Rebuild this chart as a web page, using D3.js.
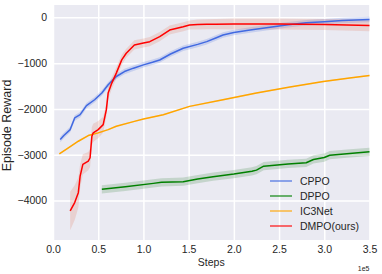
<!DOCTYPE html>
<html lang="en">
<head>
<meta charset="UTF-8">
<title>Episode Reward</title>
<script src="https://d3js.org/d3.v7.min.js"></script>
<style>
  body { margin: 0; background: #fff; }
  text { font-family: "Liberation Sans", Arial, sans-serif; fill: #262626; }
</style>
</head>
<body>
<div id="main"></div>
<script>
// data, steps in units of 1e5
var cppoX = [0.08, 0.12, 0.19, 0.24, 0.3, 0.37, 0.46, 0.54, 0.61, 0.7, 0.79, 0.89, 1.0, 1.1, 1.18, 1.3, 1.44, 1.6, 1.7, 1.8, 1.88, 2.0, 2.18, 2.4, 2.6, 2.8, 3.0, 3.2, 3.5]
var cppoY = [-2667, -2580, -2450, -2196, -2124, -1928, -1798, -1652, -1472, -1291, -1183, -1109, -1037, -980, -930, -800, -674, -590, -530, -450, -385, -330, -276, -217, -160, -120, -95, -70, -45]
var cppoSd = 60

var dppoX = [0.54, 0.8, 1.11, 1.2, 1.44, 1.6, 1.77, 2.0, 2.2, 2.25, 2.33, 2.6, 2.8, 2.88, 3.0, 3.06, 3.25, 3.5]
var dppoY = [-3754, -3700, -3624, -3600, -3587, -3530, -3478, -3420, -3360, -3335, -3248, -3200, -3174, -3102, -3060, -3009, -2975, -2935]
var dppoSd = 90

var ic3X = [0.07, 0.17, 0.28, 0.39, 0.5, 0.61, 0.7, 0.9, 1.0, 1.22, 1.51, 1.88, 2.25, 2.62, 2.99, 3.28, 3.5]
var ic3Y = [-2978, -2848, -2704, -2580, -2522, -2450, -2378, -2270, -2220, -2124, -1943, -1798, -1652, -1522, -1400, -1326, -1270]
var ic3Sd = 15

var dmpoX = [0.19, 0.24, 0.28, 0.3, 0.33, 0.39, 0.41, 0.43, 0.445, 0.5, 0.555, 0.59, 0.61, 0.65, 0.7, 0.76, 0.81, 0.9, 1.0, 1.07, 1.18, 1.29, 1.44, 1.51, 1.6, 1.7, 1.8, 2.0, 2.5, 3.0, 3.5]
var dmpoY = [-4226, -4043, -3826, -3465, -3210, -3140, -3065, -2595, -2520, -2450, -2341, -2015, -1652, -1435, -1217, -928, -783, -602, -560, -530, -422, -276, -204, -167, -155, -150, -148, -145, -145, -155, -175]
var dmpoSd = [420, 380, 330, 260, 220, 200, 200, 200, 200, 190, 170, 150, 140, 130, 120, 110, 100, 100, 100, 100, 100, 100, 100, 100, 110, 110, 110, 120, 120, 120, 130]

var xTicks = [0, 0.5, 1.0, 1.5, 2.0, 2.5, 3.0, 3.5]
var yTicks = [0, -1000, -2000, -3000, -4000]

var width = 382, height = 274
var mLeft = 53, mRight = 369.5, mTop = 5, mBottom = 240

var svg = d3.select('#main').append('svg')
    .attr('width', width).attr('height', height)

var x = d3.scaleLinear().domain([0, 3.5]).range([mLeft, mRight])
var y = d3.scaleLinear().domain([-4860, 270]).range([mBottom, mTop])

// background + grid
svg.append('rect').attr('x', mLeft).attr('y', mTop)
    .attr('width', mRight - mLeft).attr('height', mBottom - mTop).attr('fill', '#EAEAF2')

svg.append('g').attr('transform', `translate(0,${mBottom})`)
    .call(d3.axisBottom(x).tickValues(xTicks).tickSize(-(mBottom - mTop)).tickFormat(d3.format('.1f')).tickPadding(6))
    .call(g => g.select('.domain').remove())
    .call(g => g.selectAll('line').attr('stroke', '#fff').attr('stroke-width', 1.5))
    .call(g => g.selectAll('text').attr('font-size', 10.5).attr('fill', '#262626'))

svg.append('g').attr('transform', `translate(${mLeft},0)`)
    .call(d3.axisLeft(y).tickValues(yTicks).tickSize(-(mRight - mLeft)).tickFormat(d => d < 0 ? '\u2212' + Math.abs(d) : d).tickPadding(6))
    .call(g => g.select('.domain').remove())
    .call(g => g.selectAll('line').attr('stroke', '#fff').attr('stroke-width', 1.5))
    .call(g => g.selectAll('text').attr('font-size', 10.5).attr('fill', '#262626'))

var series = [
  {name: 'CPPO', xs: cppoX, ys: cppoY, sd: cppoSd, color: '#4169E1', band: '#4169E1'},
  {name: 'DPPO', xs: dppoX, ys: dppoY, sd: dppoSd, color: '#008000', band: '#2e7d32'},
  {name: 'IC3Net', xs: ic3X, ys: ic3Y, sd: ic3Sd, color: '#FFA500', band: '#FFA500'},
  {name: 'DMPO(ours)', xs: dmpoX, ys: dmpoY, sd: dmpoSd, color: '#FF0000', band: '#E07050'}
]

var area = d3.area().x(d => x(d.x)).y0(d => y(d.v - d.s)).y1(d => y(d.v + d.s))
var line = d3.line().x(d => x(d.x)).y(d => y(d.v))

series.forEach(s => {
  s.pts = s.xs.map((v, i) => ({x: v, v: s.ys[i], s: Array.isArray(s.sd) ? s.sd[i] : s.sd}))
  svg.append('path').attr('d', area(s.pts)).attr('fill', s.band).attr('opacity', 0.2)
})
series.forEach(s => {
  svg.append('path').attr('d', line(s.pts)).attr('fill', 'none')
      .attr('stroke', s.color).attr('stroke-width', 1.5).attr('stroke-linejoin', 'round')
})

// legend
var lg = svg.append('g')
series.forEach((s, i) => {
  var ly = 181 + i * 15
  lg.append('line').attr('x1', 270).attr('x2', 292).attr('y1', ly).attr('y2', ly)
      .attr('stroke', s.color).attr('stroke-width', 1.5).attr('opacity', 0.75)
  lg.append('text').attr('x', 300).attr('y', ly).attr('dy', '0.35em')
      .attr('font-size', 10.5).text(s.name)
})

// labels
svg.append('text').attr('x', (mLeft + mRight) / 2).attr('y', 266)
    .attr('text-anchor', 'middle').attr('font-size', 10.5).text('Steps')
svg.append('text').attr('x', mRight).attr('y', 271)
    .attr('text-anchor', 'end').attr('font-size', 7).text('1e5')
svg.append('text').attr('transform', `translate(11,${(mTop + mBottom) / 2 + 3}) rotate(-90)`)
    .attr('text-anchor', 'middle').attr('font-size', 12.5).text('Episode Reward')
</script>
</body>
</html>
